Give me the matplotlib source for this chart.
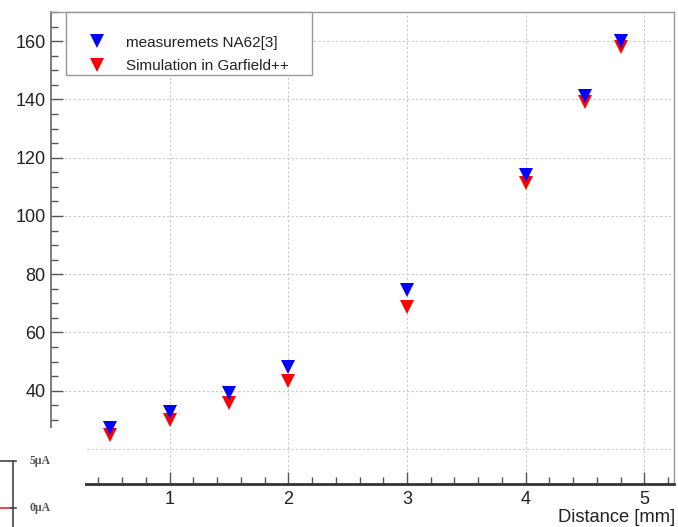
import matplotlib
matplotlib.use("Agg")
import matplotlib.pyplot as plt
from matplotlib import patches
from matplotlib.lines import Line2D
from matplotlib.ticker import MultipleLocator

plt.rcParams['font.family'] = ['Liberation Sans', 'DejaVu Sans']

distance = [0.5, 1.0, 1.5, 2.0, 3.0, 4.0, 4.5, 4.8]
measured = [27.2, 32.7, 39.2, 48.0, 74.6, 114.0, 141.2, 160.0]
simulated = [24.8, 30.0, 35.8, 43.2, 68.7, 111.3, 139.0, 158.0]
labels = ['measuremets NA62[3]', 'Simulation in Garfield++']
y_ticks = [20, 40, 60, 80, 100, 120, 140, 160]
y_ticklabels = ['', '40', '60', '80', '100', '120', '140', '160']  # "20" hidden under the pasted corner

W, H = 678, 527
fig = plt.figure(figsize=(W / 100, H / 100), dpi=100)
ax = fig.add_axes([51 / W, 1 - 484 / H, (674 - 51) / W, (484 - 12) / H])

# simulation underneath, measurements on top
l_sim, = ax.plot(distance, simulated, 'v', color='#ff0000', ms=10, mew=0, zorder=3)
l_meas, = ax.plot(distance, measured, 'v', color='#0000ff', ms=10, mew=0, zorder=3)

ax.set_xlim(0, 5.25)
ax.set_ylim(8, 170)
ax.set_xticks([1, 2, 3, 4, 5])
ax.xaxis.set_minor_locator(MultipleLocator(0.2))
ax.set_yticks(y_ticks, y_ticklabels)
ax.yaxis.set_minor_locator(MultipleLocator(5))

ax.tick_params(which='both', direction='in', top=False, right=False,
               labelsize=13, labelcolor='#222222')
ax.tick_params(which='major', length=8.5, width=1, color='#555555')
ax.tick_params(which='minor', length=5, width=1, color='#555555')
ax.tick_params(axis='y', pad=4)
ax.tick_params(axis='x', pad=5)

ax.grid(True, which='major', color='#c8c8c8', linestyle=(0, (2, 2)), lw=0.8)
ax.set_axisbelow(True)

ax.spines['left'].set_color('#666666')
ax.spines['left'].set_linewidth(1.2)
ax.spines['bottom'].set_color('#333333')
ax.spines['bottom'].set_linewidth(2)
for s in ['top', 'right']:
    ax.spines[s].set_color('#999999')
    ax.spines[s].set_linewidth(1)

fig.text(675 / W, 1 - 517.5 / H, 'Distance [mm]', ha='right', va='center',
         fontsize=13.2, color='#222222')

# legend box
box = patches.Rectangle((66 / W, 1 - 75 / H), (312 - 66) / W, 63 / H,
                        transform=fig.transFigure, facecolor='white',
                        edgecolor='#999999', lw=1, zorder=4, clip_on=False)
ax.add_patch(box)
leg = ax.legend([l_meas, l_sim], labels, loc='upper left',
                bbox_to_anchor=(89 / W, 1 - 35.5 / H),
                bbox_transform=fig.transFigure, frameon=False,
                fontsize=11, handlelength=1.0, handletextpad=1.4,
                labelspacing=0.64, borderpad=0, borderaxespad=0)
for t in leg.get_texts():
    t.set_color('#222222')

# piece of another figure overlapping the lower left corner
cover = patches.Rectangle((0, 0), 85 / W, (H - 428) / H, transform=fig.transFigure,
                          facecolor='white', edgecolor='none', zorder=10)
fig.add_artist(cover)
fig.add_artist(Line2D([13 / W, 13 / W], [0, 1 - 461 / H], transform=fig.transFigure,
                      color='#444444', lw=1.2, zorder=11))
fig.add_artist(Line2D([0, 16 / W], [1 - 461 / H, 1 - 461 / H], transform=fig.transFigure,
                      color='#444444', lw=1.2, zorder=11))
fig.add_artist(Line2D([0, 11 / W], [1 - 508 / H, 1 - 508 / H], transform=fig.transFigure,
                      color='#e05050', lw=1.5, zorder=11))
fig.add_artist(Line2D([11 / W, 16 / W], [1 - 508 / H, 1 - 508 / H], transform=fig.transFigure,
                      color='#444444', lw=1.2, zorder=11))
fig.text(29 / W, 1 - 461 / H, '5\u03bcA', fontsize=8.5, family=['Liberation Serif', 'DejaVu Serif'],
         weight='bold', color='#555555', va='center', zorder=12)
fig.text(29 / W, 1 - 508 / H, '0\u03bcA', fontsize=8.5, family=['Liberation Serif', 'DejaVu Serif'],
         weight='bold', color='#555555', va='center', zorder=12)

fig.savefig('out.png', dpi=100)
